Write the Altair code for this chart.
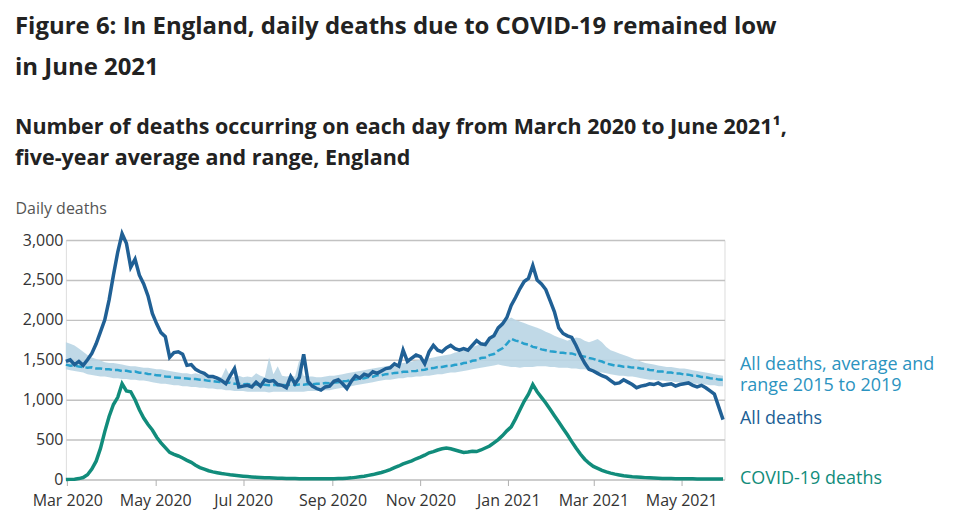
import altair as alt
import pandas as pd

START = "2020-02-29"
STEP = "3D"

all_deaths = [
    1480, 1500, 1440, 1480, 1430, 1500, 1580, 1700, 1850, 2000,
    2250, 2560, 2850, 3080, 2960, 2660, 2760, 2560, 2450, 2300,
    2080, 1950, 1840, 1790, 1530, 1590, 1600, 1570, 1430, 1440,
    1380, 1350, 1330, 1290, 1290, 1270, 1240, 1200, 1300, 1390,
    1160, 1170, 1180, 1160, 1220, 1170, 1250, 1230, 1240, 1190,
    1180, 1150, 1290, 1200, 1280, 1570, 1230, 1170, 1140, 1120,
    1160, 1170, 1230, 1250, 1200, 1140, 1230, 1300, 1270, 1320,
    1300, 1350, 1330, 1360, 1390, 1400, 1450, 1420, 1620, 1480,
    1520, 1560, 1540, 1450, 1600, 1680, 1620, 1600, 1650, 1680,
    1640, 1620, 1640, 1620, 1680, 1740, 1700, 1690, 1770, 1800,
    1900, 1950, 2030, 2180, 2280, 2390, 2480, 2520, 2680, 2500,
    2450, 2380, 2240, 2100, 1900, 1830, 1800, 1780, 1680, 1560,
    1460, 1380, 1360, 1330, 1300, 1280, 1240, 1200, 1210, 1250,
    1220, 1190, 1150, 1170, 1180, 1200, 1190, 1210, 1180, 1190,
    1200, 1170, 1190, 1200, 1210, 1180, 1160, 1180, 1150, 1110,
    1070, 910, 750,
]

covid_deaths = [
    0, 2, 5, 12, 25, 60, 130, 230, 390, 600,
    790, 940, 1030, 1200, 1110, 1100, 1000, 875, 770, 690,
    620, 530, 460, 400, 340, 315, 295, 270, 240, 215,
    180, 150, 130, 110, 96, 85, 75, 68, 60, 54,
    48, 42, 37, 33, 29, 26, 23, 21, 19, 17,
    15, 14, 13, 12, 11, 11, 10, 10, 9, 9,
    9, 10, 11, 12, 14, 17, 21, 27, 34, 42,
    52, 62, 75, 88, 105, 125, 148, 170, 195, 215,
    235, 260, 280, 305, 335, 350, 370, 385, 395, 385,
    370, 355, 340, 345, 355, 350, 370, 395, 420, 460,
    500, 550, 610, 660, 760, 870, 980, 1070, 1190, 1100,
    1030, 960, 880, 800, 720, 640, 560, 475, 395, 320,
    255, 205, 165, 140, 115, 95, 80, 68, 58, 48,
    42, 36, 32, 28, 24, 21, 18, 16, 14, 13,
    12, 11, 10, 10, 9, 9, 8, 8, 8, 8,
    7, 7, 6,
]

avg_2015_2019 = [
    1440, 1425, 1430, 1415, 1410, 1400, 1405, 1390, 1392, 1380,
    1382, 1370, 1372, 1360, 1362, 1350, 1352, 1338, 1335, 1322,
    1320, 1305, 1302, 1290, 1288, 1278, 1276, 1268, 1266, 1258,
    1258, 1250, 1248, 1236, 1234, 1225, 1222, 1212, 1212, 1200,
    1200, 1194, 1196, 1188, 1190, 1184, 1188, 1182, 1186, 1180,
    1185, 1182, 1188, 1184, 1190, 1188, 1196, 1194, 1200, 1200,
    1208, 1206, 1216, 1220, 1232, 1234, 1248, 1252, 1265, 1268,
    1285, 1288, 1305, 1306, 1320, 1322, 1336, 1338, 1350, 1350,
    1358, 1360, 1372, 1376, 1392, 1396, 1410, 1410, 1422, 1422,
    1438, 1440, 1460, 1464, 1488, 1494, 1522, 1528, 1558, 1572,
    1615, 1645, 1700, 1765, 1740, 1728, 1700, 1690, 1662, 1652,
    1630, 1620, 1608, 1602, 1590, 1588, 1578, 1580, 1562, 1552,
    1540, 1522, 1512, 1492, 1478, 1452, 1442, 1428, 1424, 1412,
    1412, 1402, 1402, 1390, 1388, 1372, 1368, 1352, 1352, 1340,
    1340, 1328, 1328, 1315, 1314, 1300, 1300, 1285, 1282, 1268,
    1266, 1252, 1250,
]

range_low = [
    1380, 1370, 1360, 1350, 1340, 1320, 1310, 1300, 1290, 1290,
    1280, 1270, 1270, 1260, 1260, 1250, 1250, 1240, 1240, 1230,
    1220, 1210, 1200, 1200, 1190, 1180, 1180, 1170, 1170, 1160,
    1160, 1150, 1150, 1140, 1140, 1130, 1130, 1120, 1120, 1110,
    1110, 1110, 1100, 1100, 1100, 1100, 1100, 1090, 1100, 1100,
    1100, 1100, 1100, 1100, 1100, 1100, 1110, 1110, 1110, 1110,
    1120, 1120, 1130, 1140, 1150, 1160, 1170, 1180, 1190, 1200,
    1210, 1220, 1230, 1240, 1250, 1250, 1260, 1270, 1270, 1280,
    1280, 1290, 1290, 1300, 1300, 1310, 1320, 1320, 1330, 1340,
    1340, 1350, 1360, 1370, 1380, 1390, 1400, 1410, 1420, 1430,
    1440, 1430, 1420, 1410, 1410, 1400, 1410, 1410, 1410, 1420,
    1420, 1420, 1410, 1410, 1400, 1400, 1400, 1390, 1390, 1380,
    1380, 1370, 1360, 1350, 1340, 1330, 1320, 1310, 1300, 1300,
    1290, 1290, 1280, 1270, 1260, 1250, 1250, 1240, 1240, 1230,
    1230, 1220, 1220, 1210, 1210, 1200, 1200, 1190, 1190, 1180,
    1180, 1170, 1170,
]

range_high = [
    1720, 1700, 1680, 1640, 1600, 1560, 1530, 1510, 1490, 1470,
    1460, 1460, 1450, 1440, 1430, 1420, 1420, 1410, 1400, 1400,
    1390, 1380, 1380, 1370, 1360, 1350, 1340, 1330, 1330, 1320,
    1330, 1320, 1310, 1300, 1290, 1290, 1280, 1400, 1290, 1280,
    1300, 1280, 1290, 1280, 1330, 1300, 1280, 1530, 1320, 1420,
    1300, 1290, 1300, 1290, 1500, 1300, 1290, 1290, 1280, 1280,
    1290, 1300, 1300, 1310, 1320, 1330, 1340, 1350, 1360, 1370,
    1380, 1390, 1400, 1410, 1420, 1430, 1440, 1450, 1460, 1470,
    1480, 1490, 1500, 1510, 1520, 1530, 1540, 1550, 1560, 1570,
    1590, 1600, 1620, 1640, 1660, 1680, 1700, 1720, 1760, 1800,
    1850, 1950, 2000, 2030, 2000, 1980, 1960, 1940, 1920, 1900,
    1880, 1850, 1830, 1800, 1780, 1760, 1740, 1760, 1780, 1770,
    1740, 1720, 1740, 1760, 1720, 1660, 1620, 1600, 1580, 1560,
    1540, 1520, 1500, 1480, 1460, 1450, 1440, 1430, 1420, 1410,
    1410, 1400, 1390, 1390, 1380, 1370, 1360, 1350, 1340, 1330,
    1320, 1310, 1300,
]

tick_months = [(2020, 3), (2020, 5), (2020, 7), (2020, 9), (2020, 11),
               (2021, 1), (2021, 3), (2021, 5)]
y_ticks = [0, 500, 1000, 1500, 2000, 2500, 3000]

label_avg_1 = "All deaths, average and"
label_avg_2 = "range 2015 to 2019"
label_all = "All deaths"
label_covid = "COVID-19 deaths"

DARK = "#206095"
LIGHT = "#27a0cc"
TEAL = "#118c7b"
BAND = "#b9d5e4"
FONT = "Open Sans"

dates = pd.date_range(START, periods=len(all_deaths), freq=STEP)
df = pd.DataFrame({
    "date": dates.strftime("%Y-%m-%dT00:00:00"),
    "all": all_deaths,
    "covid": covid_deaths,
    "avg": avg_2015_2019,
    "low": range_low,
    "high": range_high,
})

last = df.iloc[[-1]].copy()

x_enc = alt.X(
    "date:T",
    scale=alt.Scale(domain=[alt.DateTime(year=2020, month=2, date=29),
                            alt.DateTime(year=2021, month=5, date=31)]),
    axis=alt.Axis(
        values=[alt.DateTime(year=y, month=m, date=1) for y, m in tick_months],
        format="%b %Y", title=None, grid=False, domain=False,
        ticks=True, tickSize=6, tickColor="#b0b0b0", tickWidth=1,
        labelFontSize=16, labelColor="#333333", labelFont=FONT, labelPadding=7,
    ),
)


def y_enc(field):
    return alt.Y(
        f"{field}:Q",
        scale=alt.Scale(domain=[0, 3000], nice=False),
        axis=alt.Axis(
            values=y_ticks, format=",.0f", title="Daily deaths",
            titleAngle=0, titleAlign="left", titleBaseline="middle",
            titleX=-51, titleY=-32, titleFontSize=16, titleFontWeight="normal",
            titleColor="#555555", titleFont=FONT,
            domain=False, ticks=False, grid=True, gridColor="#c2c2c2",
            gridWidth=1.5, labelFontSize=16, labelColor="#333333",
            labelFont=FONT, labelPadding=3,
        ),
    )


base = alt.Chart(df).encode(x=x_enc)

band = base.mark_area(color=BAND, opacity=0.9).encode(y=y_enc("low"), y2="high:Q")
avg_line = base.mark_line(color=LIGHT, strokeWidth=2.5, strokeDash=[7, 3]).encode(y=y_enc("avg"))
covid_line = base.mark_line(color=TEAL, strokeWidth=3.5).encode(y=y_enc("covid"))
all_line = base.mark_line(color=DARK, strokeWidth=3.5).encode(y=y_enc("all"))

lbase = alt.Chart(last).encode(x=x_enc)
lab_avg1 = lbase.mark_text(align="left", baseline="middle", dx=17, dy=-15,
                           fontSize=18, font=FONT, color="#2b93c0").encode(
    y=y_enc("avg"), text=alt.value(label_avg_1))
lab_avg2 = lbase.mark_text(align="left", baseline="middle", dx=17, dy=6,
                           fontSize=18, font=FONT, color="#2b93c0").encode(
    y=y_enc("avg"), text=alt.value(label_avg_2))
lab_all = lbase.mark_text(align="left", baseline="middle", dx=17, dy=-1,
                          fontSize=18, font=FONT, color=DARK).encode(
    y=y_enc("all"), text=alt.value(label_all))
lab_cov = lbase.mark_text(align="left", baseline="middle", dx=17, dy=0,
                          fontSize=18, font=FONT, color=TEAL).encode(
    y=y_enc("covid"), text=alt.value(label_covid))

chart = alt.layer(band, avg_line, covid_line, all_line,
                  lab_avg1, lab_avg2, lab_all, lab_cov).properties(
    width=660,
    height=240,
    autosize=alt.AutoSizeParams(type="none"),
    padding={"left": 58, "top": 232, "right": 230, "bottom": 35},
    title=alt.TitleParams(
        text=["Figure 6: In England, daily deaths due to COVID-19 remained low", "in June 2021"],
        subtitle=["Number of deaths occurring on each day from March 2020 to June 2021\u00b9,",
                  "five-year average and range, England"],
        anchor="start", frame="bounds", font=FONT, fontSize=24, fontWeight="bold",
        color="#222222", lineHeight=41, subtitleFont=FONT, subtitleFontSize=21.5,
        subtitleFontWeight="bold", subtitleColor="#222222", subtitleLineHeight=31,
        subtitlePadding=37, offset=31,
    ),
).configure_view(stroke=None).configure(font=FONT)

chart.save("out.html", embed_options={"renderer": "svg", "actions": False})
